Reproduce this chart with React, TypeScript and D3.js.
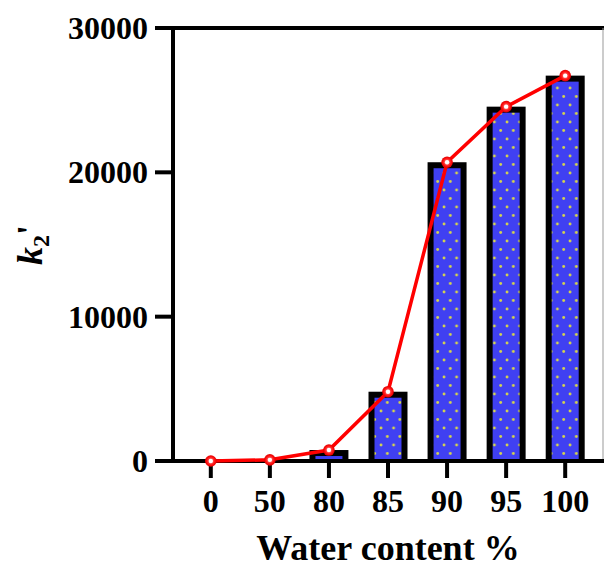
import React from 'react';
import * as d3 from 'd3';

// Water content categories (x) and k2' values
const categories = ['0', '50', '80', '85', '90', '95', '100'];
const k2Values = [0, 80, 760, 4800, 20700, 24550, 26700];
const yTicks = [0, 10000, 20000, 30000];

const WIDTH = 604;
const HEIGHT = 568;
const FONT = '"Liberation Serif", "Times New Roman", serif';

export default function App() {
  const x = d3.scalePoint<string>()
    .domain(categories)
    .range([173, 603])
    .padding(0.64);

  const y = d3.scaleLinear()
    .domain([0, 30000])
    .range([461, 28]);

  const barW = x.step() * 0.66;
  const border = 6;
  const base = y(0);

  const line = d3.line<number>()
    .x((_, i) => x(categories[i]) as number)
    .y(d => y(d));

  return (
    <svg
      width={WIDTH}
      height={HEIGHT}
      style={{ position: 'absolute', left: 0, top: 0, fontFamily: FONT }}
    >
      <defs>
        <pattern id="dots" width={12.6} height={17} patternUnits="userSpaceOnUse">
          <rect width={12.6} height={17} fill="#4040f2" />
          <circle cx={3} cy={3} r={1.4} fill="#d6d64a" />
          <circle cx={9.3} cy={11.5} r={1.4} fill="#d6d64a" />
        </pattern>
        <radialGradient id="dotGlow">
          <stop offset="0%" stopColor="#ff9a9a" />
          <stop offset="70%" stopColor="#ff1010" />
          <stop offset="100%" stopColor="#e00000" />
        </radialGradient>
      </defs>

      {/* bars: black frame with dotted blue fill */}
      {k2Values.map((v, i) => {
        const cx = x(categories[i]) as number;
        const top = y(v);
        if (base - top < 1) return null;
        return (
          <g key={categories[i]}>
            <rect x={cx - barW / 2} y={top} width={barW} height={base - top} fill="#000" />
            {base - 2 - (top + border) > 0 && (
              <rect
                x={cx - barW / 2 + border}
                y={top + border}
                width={barW - 2 * border}
                height={base - 2 - (top + border)}
                fill="url(#dots)"
              />
            )}
          </g>
        );
      })}

      {/* top frame line and right edge */}
      <line x1={155} x2={WIDTH} y1={y(30000)} y2={y(30000)} stroke="#000" strokeWidth={4} />
      <line x1={603} x2={603} y1={y(30000)} y2={base} stroke="#999" strokeWidth={1} />

      {/* y axis */}
      <line x1={173} x2={173} y1={y(30000) - 2} y2={base + 2} stroke="#000" strokeWidth={4} />
      {yTicks.map(t => (
        <g key={t}>
          <line x1={155} x2={173} y1={y(t)} y2={y(t)} stroke="#000" strokeWidth={4} />
          <text
            x={148}
            y={y(t)}
            dy="0.34em"
            textAnchor="end"
            fontSize={32}
            fontWeight="bold"
          >
            {t}
          </text>
        </g>
      ))}

      {/* x axis */}
      <line x1={171} x2={WIDTH} y1={base} y2={base} stroke="#000" strokeWidth={4} />
      {categories.map(c => (
        <g key={c}>
          <line x1={x(c)} x2={x(c)} y1={base} y2={base + 17} stroke="#000" strokeWidth={4} />
          <text x={x(c)} y={512} textAnchor="middle" fontSize={32} fontWeight="bold">
            {c}
          </text>
        </g>
      ))}

      {/* axis titles */}
      <text x={388} y={560} textAnchor="middle" fontSize={36} fontWeight="bold">
        Water content %
      </text>
      <text
        transform="translate(42,245) rotate(-90)"
        textAnchor="middle"
        fontSize={36}
        fontWeight="bold"
      >
        <tspan fontStyle="italic">k</tspan>
        <tspan fontSize={24} dy={7}>2</tspan>
        <tspan dy={-7}>'</tspan>
      </text>

      {/* red line with markers */}
      <path d={line(k2Values) || ''} fill="none" stroke="#ff0000" strokeWidth={3.5} />
      {k2Values.map((v, i) => (
        <g key={categories[i]}>
          <circle cx={x(categories[i])} cy={y(v)} r={5.8} fill="url(#dotGlow)" />
          <circle cx={x(categories[i])} cy={y(v)} r={2.2} fill="#fff" />
        </g>
      ))}
    </svg>
  );
}
